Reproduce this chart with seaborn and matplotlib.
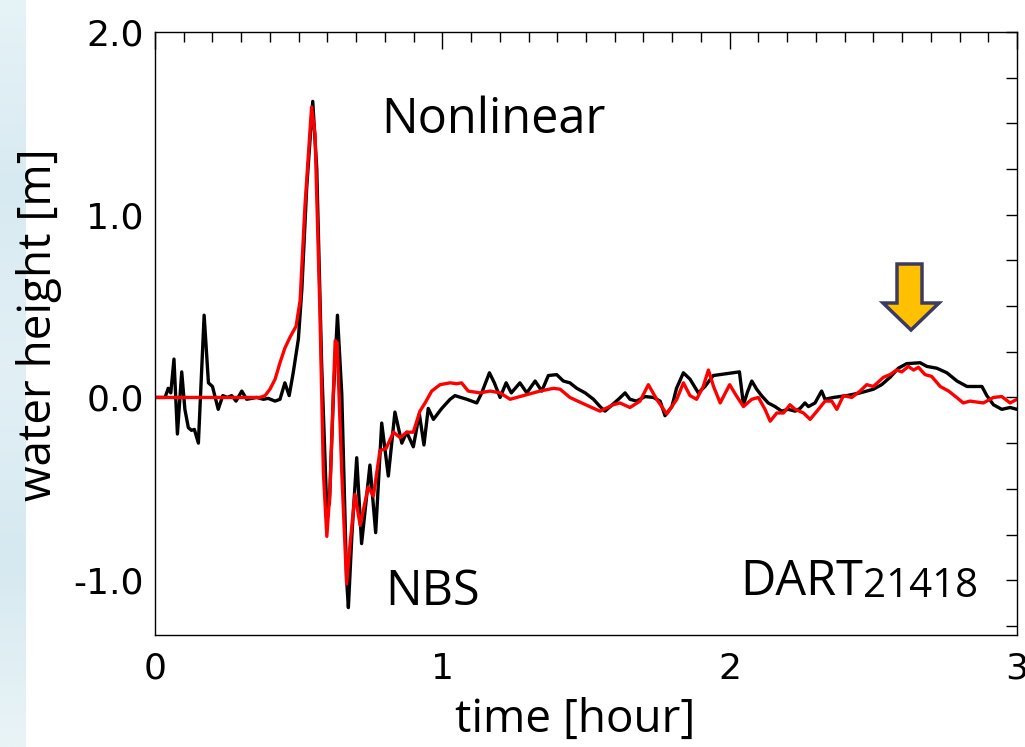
import numpy as np
import pandas as pd
import matplotlib
matplotlib.use("Agg")
import matplotlib.pyplot as plt
from matplotlib.patches import Polygon
from matplotlib.ticker import MultipleLocator
import seaborn as sns

# Observed record (black)
obs_time = [0.000, 0.035, 0.046, 0.055, 0.066, 0.078, 0.093, 0.104, 0.116, 0.127,
            0.137, 0.151, 0.171, 0.186, 0.200, 0.220, 0.236, 0.252, 0.267, 0.282,
            0.302, 0.319, 0.354, 0.377, 0.394, 0.418, 0.435, 0.452, 0.467, 0.481,
            0.499, 0.511, 0.528, 0.549, 0.563, 0.580, 0.598, 0.607, 0.621, 0.635,
            0.650, 0.667, 0.673, 0.685, 0.702, 0.719, 0.748, 0.768, 0.789, 0.812,
            0.835, 0.859, 0.876, 0.899, 0.920, 0.936, 0.951, 0.969, 0.998, 1.027,
            1.044, 1.085, 1.120, 1.137, 1.164, 1.181, 1.201, 1.222, 1.240, 1.270,
            1.294, 1.323, 1.346, 1.369, 1.398, 1.421, 1.444, 1.468, 1.497, 1.526,
            1.549, 1.566, 1.584, 1.613, 1.636, 1.653, 1.676, 1.706, 1.735, 1.758,
            1.775, 1.799, 1.815, 1.839, 1.862, 1.891, 1.914, 1.943, 1.989, 2.034,
            2.048, 2.062, 2.077, 2.094, 2.111, 2.134, 2.158, 2.181, 2.204, 2.228,
            2.245, 2.262, 2.274, 2.297, 2.320, 2.332, 2.361, 2.407, 2.454, 2.500,
            2.529, 2.558, 2.587, 2.616, 2.663, 2.686, 2.721, 2.756, 2.791, 2.826,
            2.878, 2.895, 2.918, 2.947, 2.976, 3.000]
obs_height = [0.00, 0.00, 0.05, 0.025, 0.21, -0.20, 0.14, -0.065, -0.165, -0.18,
              -0.175, -0.25, 0.45, 0.08, 0.06, -0.065, 0.01, 0.00, 0.01, -0.02,
              0.035, -0.01, 0.00, -0.01, -0.005, -0.02, -0.01, 0.08, 0.01, 0.135,
              0.32, 0.59, 1.15, 1.62, 1.25, 0.18, -0.62, -0.58, 0.02, 0.45,
              0.02, -1.00, -1.15, -0.76, -0.33, -0.80, -0.37, -0.74, -0.14, -0.43,
              -0.08, -0.25, -0.19, -0.27, -0.09, -0.26, -0.06, -0.12, -0.06, -0.01,
              0.01, -0.01, -0.03, 0.025, 0.135, 0.08, 0.00, 0.08, 0.025, 0.08,
              0.025, 0.09, 0.035, 0.12, 0.125, 0.09, 0.08, 0.05, 0.025, -0.01,
              -0.05, -0.075, -0.05, -0.01, 0.025, -0.01, -0.02, 0.005, 0.00, -0.02,
              -0.10, -0.05, 0.05, 0.135, 0.10, 0.025, 0.06, 0.12, 0.13, 0.14,
              -0.04, 0.03, 0.09, 0.045, 0.01, -0.03, -0.05, -0.075, -0.065, -0.075,
              -0.06, -0.03, -0.05, -0.03, 0.035, -0.01, 0.00, 0.01, 0.025, 0.045,
              0.07, 0.11, 0.16, 0.185, 0.19, 0.17, 0.16, 0.135, 0.09, 0.06,
              0.06, 0.01, -0.04, -0.065, -0.055, -0.065]

# Nonlinear simulation (red)
sim_time = [0.000, 0.365, 0.383, 0.400, 0.418, 0.435, 0.452, 0.470, 0.491, 0.505,
            0.522, 0.545, 0.557, 0.574, 0.586, 0.598, 0.609, 0.627, 0.634, 0.650,
            0.667, 0.679, 0.696, 0.714, 0.742, 0.760, 0.783, 0.804, 0.830, 0.853,
            0.876, 0.899, 0.922, 0.940, 0.963, 0.992, 1.027, 1.050, 1.067, 1.090,
            1.131, 1.166, 1.201, 1.236, 1.282, 1.340, 1.387, 1.410, 1.444, 1.485,
            1.520, 1.549, 1.595, 1.618, 1.653, 1.688, 1.717, 1.746, 1.781, 1.816,
            1.839, 1.862, 1.885, 1.908, 1.926, 1.944, 1.967, 2.000, 2.023, 2.048,
            2.077, 2.100, 2.123, 2.141, 2.164, 2.187, 2.210, 2.228, 2.257, 2.280,
            2.309, 2.332, 2.355, 2.373, 2.396, 2.425, 2.454, 2.477, 2.500, 2.535,
            2.558, 2.581, 2.599, 2.622, 2.640, 2.657, 2.680, 2.703, 2.733, 2.762,
            2.790, 2.813, 2.836, 2.883, 2.918, 2.947, 2.976, 3.000]
sim_height = [0.00, 0.00, 0.01, 0.045, 0.10, 0.19, 0.27, 0.33, 0.39, 0.53,
              1.05, 1.59, 1.44, 0.47, -0.41, -0.76, -0.51, 0.31, 0.30, -0.41,
              -1.02, -0.80, -0.53, -0.70, -0.49, -0.54, -0.29, -0.28, -0.19, -0.22,
              -0.19, -0.19, -0.075, -0.03, 0.035, 0.07, 0.08, 0.075, 0.08, 0.035,
              0.025, 0.035, 0.025, -0.01, 0.01, 0.035, 0.05, 0.045, 0.00, -0.03,
              -0.055, -0.075, -0.04, -0.03, -0.055, -0.02, 0.07, -0.01, -0.09, -0.01,
              0.08, 0.01, -0.01, 0.06, 0.15, 0.06, -0.03, 0.07, 0.01, -0.05,
              -0.01, 0.00, -0.065, -0.13, -0.085, -0.085, -0.04, -0.065, -0.085, -0.12,
              -0.065, -0.02, -0.02, -0.065, 0.01, 0.00, 0.035, 0.07, 0.06, 0.11,
              0.125, 0.15, 0.14, 0.17, 0.15, 0.165, 0.125, 0.115, 0.06, 0.035,
              0.00, -0.03, -0.02, -0.03, 0.00, 0.005, -0.03, -0.01]

y_ticks = [-1.0, 0.0, 1.0, 2.0]
y_tick_labels = ["-1.0", "0.0", "1.0", "2.0"]
x_ticks = [0, 1, 2, 3]
x_tick_labels = ["0", "1", "2", "3"]

obs = pd.DataFrame({"time": obs_time, "height": obs_height})
sim = pd.DataFrame({"time": sim_time, "height": sim_height})

sns.set_theme(style="white")
plt.rcParams["font.family"] = ["DejaVu Sans"]

W, H = 1025, 747
fig = plt.figure(figsize=(W / 100, H / 100), dpi=100)
fig.patch.set_facecolor("white")

# pale water-coloured strip on the left edge
strip = fig.add_axes([0, 0, 26 / W, 1])
grad = np.linspace(0, 1, 256).reshape(-1, 1)
strip.imshow(grad, aspect="auto", cmap=matplotlib.colors.LinearSegmentedColormap.from_list(
    "water", ["#e6f3f7", "#d8eaf1", "#e2f0f5", "#d6e9f0", "#e9f4f7"]),
    extent=[0, 1, 0, 1])
strip.set_axis_off()

ax = fig.add_axes([155 / W, 1 - 635 / H, 862 / W, 603 / H])
ax.set_facecolor("white")

line_kw = dict(lw=2.4, estimator=None, sort=False, solid_joinstyle="round",
               solid_capstyle="round")
sns.lineplot(data=obs, x="time", y="height", ax=ax, color="black", **line_kw)
sns.lineplot(data=sim, x="time", y="height", ax=ax, color="#ff0000", **line_kw)

ax.set_xlim(0, 3)
ax.set_ylim(-1.3, 2.0)
ax.set_xticks(x_ticks)
ax.set_xticklabels(x_tick_labels)
ax.set_yticks(y_ticks)
ax.set_yticklabels(y_tick_labels)
ax.xaxis.set_minor_locator(MultipleLocator(0.1))
ax.yaxis.set_minor_locator(MultipleLocator(0.25))

for s in ax.spines.values():
    s.set_visible(True)
    s.set_color("black")
    s.set_linewidth(1.0)

ax.tick_params(axis="both", which="both", direction="in", top=True, right=True,
               color="black", width=1.0, labelsize=26, labelcolor="black")
ax.tick_params(axis="x", which="major", length=12, pad=12)
ax.tick_params(axis="x", which="minor", length=7)
ax.tick_params(axis="y", which="major", length=8, pad=8)
ax.tick_params(axis="y", which="minor", length=8)

label_font = dict(family=["Open Sans", "DejaVu Sans"], color="black")
ax.set_xlabel("time [hour]", size=33, **label_font)
ax.set_ylabel("water height [m]", size=33, **label_font)
ax.xaxis.set_label_coords(0.487, -0.102)
ax.yaxis.set_label_coords(-0.108, 0.514)

ann_font = dict(family=["Open Sans", "DejaVu Sans"], size=35, color="black")
ax.text(0.262, 0.8325, "Nonlinear", transform=ax.transAxes, ha="left",
        va="baseline", **ann_font)
ax.text(0.267, 0.05, "NBS", transform=ax.transAxes, ha="left",
        va="baseline", **ann_font)
t = ax.text(0.679, 0.066, "DART", transform=ax.transAxes, ha="left",
            va="baseline", **ann_font)
ax.annotate("21418", xy=(1, 0), xycoords=t, ha="left", va="bottom",
            family=["Open Sans", "DejaVu Sans"], size=29, color="black")

# highlight arrow over the late wave crest
arrow_px = [(897, 264), (922, 264), (922, 303), (939, 303), (911, 330),
            (883, 303), (897, 303)]
arrow = Polygon([(x / W, 1 - y / H) for x, y in arrow_px], closed=True,
                transform=fig.transFigure, facecolor="#ffc000",
                edgecolor="#3b3a62", linewidth=2.5, joinstyle="miter", zorder=10)
fig.patches.append(arrow)

fig.savefig("out.png", dpi=100)
